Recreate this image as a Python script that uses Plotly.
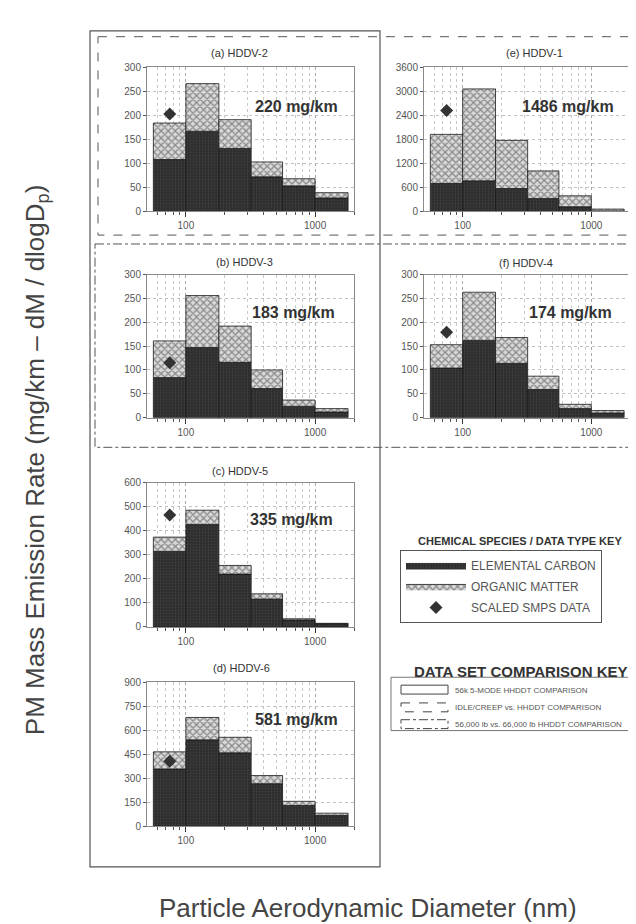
import plotly.graph_objects as go
import math

# ---------------- data ----------------
bin_edges = [56, 100, 180, 320, 560, 1000, 1800]          # nm (stage cut sizes)
x_tick_vals = [100, 1000]
x_tick_text = ["100", "1000"]
x_minor_vals = [60, 70, 80, 90, 200, 300, 400, 500, 600, 700, 800, 900, 2000]

panel_titles = ["(a) HDDV-2", "(e) HDDV-1", "(b) HDDV-3", "(f) HDDV-4", "(c) HDDV-5", "(d) HDDV-6"]
total_labels = ["220 mg/km", "1486 mg/km", "183 mg/km", "174 mg/km", "335 mg/km", "581 mg/km"]

ec_hddv2 = [108, 167, 131, 72, 53, 28]
om_hddv2 = [76, 99, 60, 31, 15, 11]
ec_hddv1 = [697, 763, 572, 323, 116, 10]
om_hddv1 = [1227, 2297, 1203, 689, 274, 48]
ec_hddv3 = [84, 147, 116, 61, 24, 12]
om_hddv3 = [77, 109, 76, 39, 13, 7]
ec_hddv4 = [104, 162, 114, 59, 19, 10]
om_hddv4 = [49, 101, 54, 28, 9, 5]
ec_hddv5 = [315, 426, 220, 116, 29, 13]
om_hddv5 = [59, 60, 36, 22, 5, 2]
ec_hddv6 = [358, 540, 459, 266, 130, 68]
om_hddv6 = [107, 140, 97, 51, 26, 14]

smps_x = 75
smps_y = [203, 2521, 115, 179, 466, 406]

y_max = [300, 3600, 300, 300, 600, 900]
y_dtick = [50, 600, 50, 50, 100, 150]

ec_all = [ec_hddv2, ec_hddv1, ec_hddv3, ec_hddv4, ec_hddv5, ec_hddv6]
om_all = [om_hddv2, om_hddv1, om_hddv3, om_hddv4, om_hddv5, om_hddv6]

# ---------------- layout helpers ----------------
W, H = 636, 924
FONT = "Liberation Sans, Arial, sans-serif"
def px(x): return x / W
def py(y): return 1 - y / H

# plot areas in pixels: (left, right, top, bottom)
areas = [
    (139, 346, 54, 200),   # a
    (416, 622, 54, 200),   # e
    (139, 346, 264, 409),  # b
    (416, 622, 264, 409),  # f
    (139, 346, 475, 621),  # c
    (139, 346, 677, 823),  # d
]
title_pos = [(232, 40), (526, 40), (237, 251), (518, 252), (232, 463), (234, 663)]
label_pos = [(288, 94), (560, 94), (285, 302), (562, 302), (283, 512), (288, 715)]

EC_COLOR = "#2c2c2c"
fig = go.Figure()

for k in range(6):
    xa = "x" if k == 0 else f"x{k+1}"
    ya = "y" if k == 0 else f"y{k+1}"
    ec = ec_all[k]
    om = om_all[k]
    for i in range(len(ec)):
        lo, hi = bin_edges[i], bin_edges[i + 1]
        top = ec[i] + om[i]
        fig.add_trace(go.Scatter(
            x=[lo, lo, hi, hi, lo], y=[0, ec[i], ec[i], 0, 0],
            mode="lines", fill="toself", fillcolor=EC_COLOR,
            fillpattern=dict(shape=".", bgcolor=EC_COLOR, fgcolor="#555555", size=3, solidity=0.3),
            line=dict(color="#1a1a1a", width=0.8),
            xaxis=xa, yaxis=ya, name="ELEMENTAL CARBON", legendgroup="ec",
            showlegend=(k == 0 and i == 0), hoverinfo="skip"))
        fig.add_trace(go.Scatter(
            x=[lo, lo, hi, hi, lo], y=[ec[i], top, top, ec[i], ec[i]],
            mode="lines", fill="toself", fillcolor="white",
            fillpattern=dict(shape="x", bgcolor="#d9d9d9", fgcolor="#3a3a3a", size=5, solidity=0.45),
            line=dict(color="#1a1a1a", width=0.8),
            xaxis=xa, yaxis=ya, name="ORGANIC MATTER", legendgroup="om",
            showlegend=(k == 0 and i == 0), hoverinfo="skip"))
    fig.add_trace(go.Scatter(
        x=[smps_x], y=[smps_y[k]], mode="markers",
        marker=dict(symbol="diamond", size=10, color="#333333"),
        xaxis=xa, yaxis=ya, name="SCALED SMPS DATA", legendgroup="smps",
        showlegend=(k == 0)))

layout = {}
for k in range(6):
    l, r, t, b = areas[k]
    xn = "xaxis" if k == 0 else f"xaxis{k+1}"
    yn = "yaxis" if k == 0 else f"yaxis{k+1}"
    ya = "y" if k == 0 else f"y{k+1}"
    xa = "x" if k == 0 else f"x{k+1}"
    layout[xn] = dict(
        domain=[px(l), px(r)], anchor=ya, type="log",
        range=[math.log10(50), math.log10(2000)],
        tickmode="array", tickvals=x_tick_vals, ticktext=x_tick_text,
        ticks="outside", ticklen=5, tickcolor="#333", tickwidth=1.2,
        tickfont=dict(family=FONT, size=10, color="#555"),
        showgrid=True, gridcolor="#a8a8a8", griddash="dot", gridwidth=1,
        minor=dict(tickvals=x_minor_vals, ticks="outside", ticklen=3, tickcolor="#555",
                   showgrid=True, gridcolor="#c8c8c8", griddash="dot"),
        showline=True, linecolor="#8a8a8a", linewidth=1, mirror=True, zeroline=False,
        fixedrange=True)
    layout[yn] = dict(
        domain=[py(b), py(t)], anchor=xa, range=[0, y_max[k]], dtick=y_dtick[k],
        ticks="outside", ticklen=3, tickcolor="#555",
        tickfont=dict(family=FONT, size=10, color="#555"),
        showgrid=True, gridcolor="#c0c0c0", griddash="dot",
        showline=True, linecolor="#8a8a8a", linewidth=1, mirror=True, zeroline=False,
        fixedrange=True)

def ann(x, y, text, size, color="#333", anchor="center", angle=0):
    return dict(x=px(x), y=py(y), xref="paper", yref="paper", text=text, showarrow=False,
                xanchor=anchor, yanchor="middle", textangle=angle,
                font=dict(family=FONT, size=size, color=color))

annotations = []
for k in range(6):
    tx, ty = title_pos[k]
    annotations.append(ann(tx, ty, panel_titles[k], 11))
    lx, ly = label_pos[k]
    annotations.append(ann(lx, ly, f"<b>{total_labels[k]}</b>", 16))

annotations += [
    ann(28, 452, "PM Mass Emission Rate (mg/km \u2013 dM / dlogD<sub>p</sub>)", 26, "#444", angle=-90),
    ann(360, 906, "Particle Aerodynamic Diameter (nm)", 26, "#444"),
    ann(512, 534, "<b>CHEMICAL SPECIES / DATA TYPE KEY</b>", 11),
    ann(513, 666, "<b>DATA SET COMPARISON KEY</b>", 15),
    ann(445, 685, "56k 5-MODE HHDDT COMPARISON", 8, "#555", anchor="left"),
    ann(445, 703, "IDLE/CREEP vs. HHDDT COMPARISON", 8, "#555", anchor="left"),
    ann(445, 720, "56,000 lb vs. 66,000 lb HHDDT COMPARISON", 8, "#555", anchor="left"),
]

def rect(x0, y0, x1, y1, dash="solid", color="#555", width=1):
    return dict(type="rect", xref="paper", yref="paper", x0=px(x0), x1=px(x1), y0=py(y0), y1=py(y1),
                line=dict(color=color, width=width, dash=dash), fillcolor="rgba(0,0,0,0)", layer="below")

shapes = [
    rect(82, 17, 372, 864, "solid", "#555", 1.2),
    rect(90, 23, 660, 224, "dash", "#555", 1),
    rect(87, 233, 660, 439, "dashdot", "#555", 1),
    rect(383, 672, 660, 726, "solid", "#777", 1),
    rect(393, 680, 440, 689, "solid", "#444", 1),
    rect(393, 698, 440, 707, "dash", "#444", 1),
    rect(393, 715, 440, 724, "dashdot", "#444", 1),
]

fig.update_layout(
    width=W, height=H, margin=dict(l=0, r=0, t=0, b=0),
    paper_bgcolor="white", plot_bgcolor="white",
    showlegend=True,
    legend=dict(x=px(392), y=py(543), xanchor="left", yanchor="top",
                bordercolor="#555", borderwidth=1, bgcolor="white",
                font=dict(family=FONT, size=12, color="#555"),
                itemwidth=60, tracegroupgap=2, itemclick=False, itemdoubleclick=False),
    annotations=annotations, shapes=shapes, **layout)

fig.write_html("out.html")
